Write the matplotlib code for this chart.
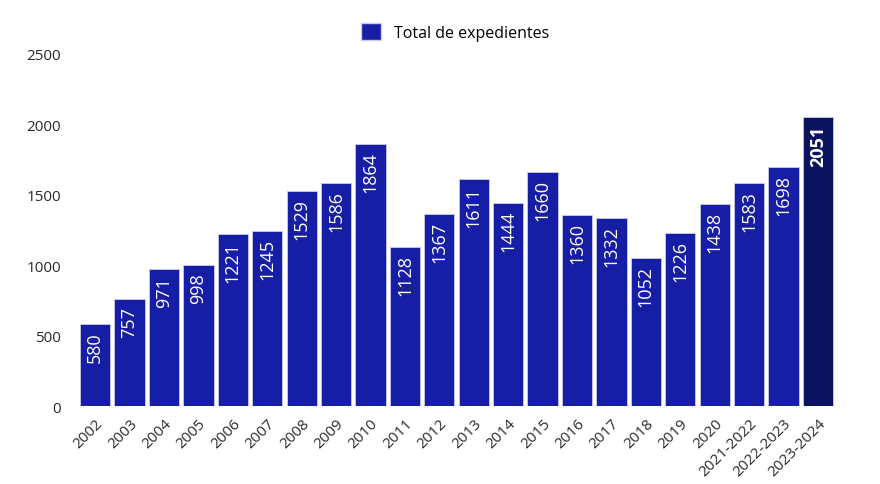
import matplotlib.pyplot as plt
from matplotlib.patches import Patch

years = ['2002', '2003', '2004', '2005', '2006', '2007', '2008', '2009', '2010', '2011',
         '2012', '2013', '2014', '2015', '2016', '2017', '2018', '2019', '2020',
         '2021-2022', '2022-2023', '2023-2024']
totals = [580, 757, 971, 998, 1221, 1245, 1529, 1586, 1864, 1128,
          1367, 1611, 1444, 1660, 1360, 1332, 1052, 1226, 1438, 1583, 1698, 2051]

plt.rcParams['font.family'] = ['Open Sans', 'DejaVu Sans']

blue = '#161ea6'
navy = '#0b1260'
colors = [blue] * (len(totals) - 1) + [navy]

fig = plt.figure(figsize=(8.8, 4.85), dpi=100)
ax = fig.add_axes([0.0886, 0.1608, 0.8604, 0.7258])

x = range(len(totals))
ax.bar(x, totals, width=0.88, color=colors, edgecolor='#c9cbe8', linewidth=0.6)

for i, v in enumerate(totals):
    last = i == len(totals) - 1
    ax.text(i, v - 50, str(v), rotation=90, ha='center', va='top', color='white',
            fontsize=13, fontweight='bold' if last else 'normal')

ax.set_xlim(-0.5, len(totals) - 0.5)
ax.set_ylim(0, 2500)
ax.set_yticks([0, 500, 1000, 1500, 2000, 2500])
ax.set_xticks(list(x))
ax.set_xticklabels(years, rotation=45, ha='right', rotation_mode='anchor')
ax.tick_params(axis='both', length=0, labelsize=11, colors='#2a2a2a')
ax.tick_params(axis='y', pad=12)
ax.tick_params(axis='x', pad=7)
for s in ax.spines.values():
    s.set_visible(False)

handle = Patch(facecolor=blue, edgecolor='#c9cbe8')
fig.legend([handle], ['Total de expedientes'], loc='center', bbox_to_anchor=(0.517, 0.932),
           frameon=False, fontsize=11.5, handlelength=1.3, handleheight=1.3)

fig.savefig('out.png', dpi=100)
